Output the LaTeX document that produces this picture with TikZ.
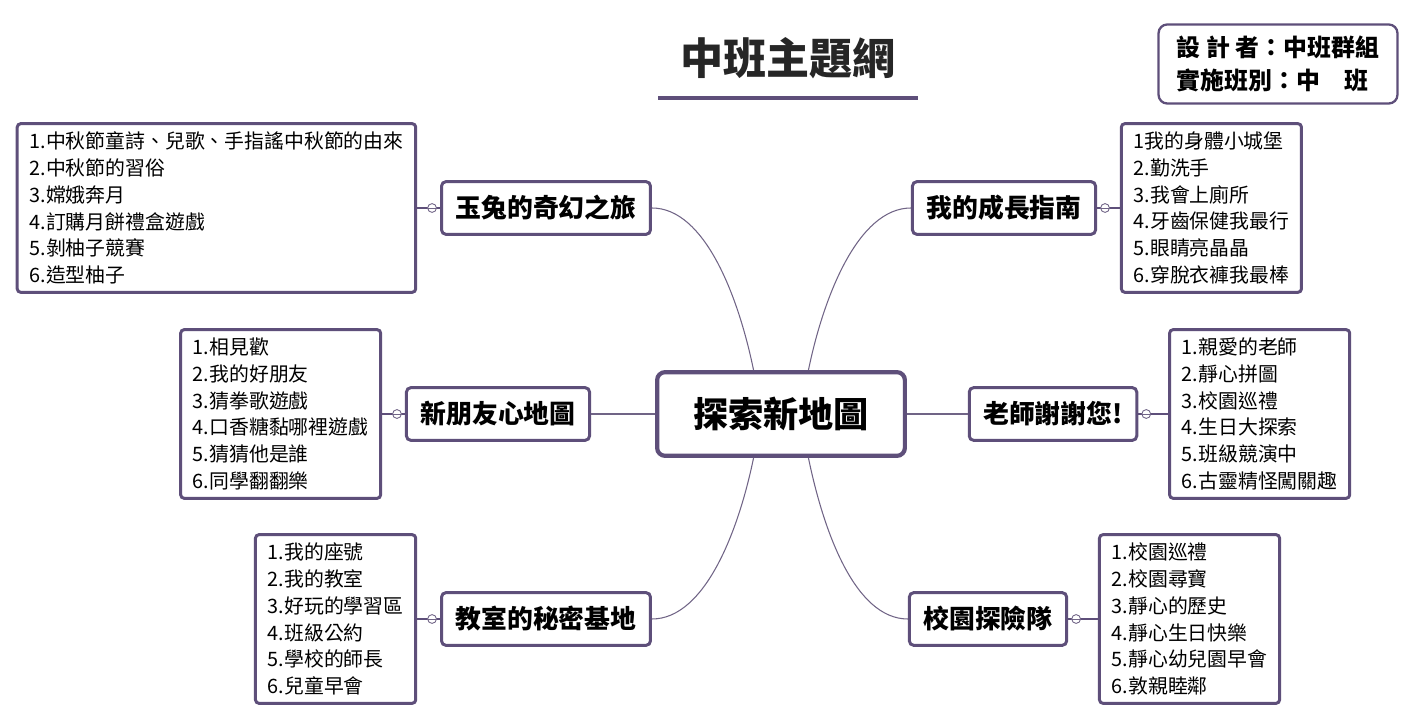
\documentclass[tikz,border=0pt]{standalone}
\usepackage{fontspec}
\setmainfont{Noto Sans CJK TC}
\usetikzlibrary{calc,positioning}
\definecolor{plum}{RGB}{94,79,122}
\definecolor{wire}{RGB}{112,100,134}
\tikzstyle{topic}=[rectangle,draw=plum,line width=2.4pt,rounded corners=4.5pt,fill=white,minimum width=141pt,minimum height=47.6pt,font=\fontsize{20}{24}\selectfont\bfseries]
\tikzstyle{subtopic}=[rectangle,draw=plum,line width=1.7pt,rounded corners=2.5pt,fill=white,minimum height=30pt,inner xsep=8pt,font=\fontsize{14.7}{18}\selectfont\bfseries]
\tikzstyle{leaf}=[rectangle,draw=plum,line width=1.7pt,rounded corners=2pt,fill=white,minimum height=96pt,inner xsep=7pt,align=left,font=\fontsize{11.3}{15.3}\selectfont]
\tikzstyle{knob}=[circle,draw=wire,fill=white,line width=0.5pt,minimum size=5pt,inner sep=0pt,path picture={\draw[wire,line width=0.5pt] (path picture bounding box.west) -- (path picture bounding box.east);}]
\tikzstyle{stem} = [draw=plum,line width=1.2pt]
\tikzstyle{branch} = [draw=wire,line width=0.6pt]

\begin{document}
\begin{tikzpicture}[x=0.02cm,y=-0.02cm]
\useasboundingbox (0,0) rectangle (1417,722);

   \def\gap{13pt}
   \def\wgap{17pt}

% Label
\node[font=\fontsize{24.5}{28}\selectfont\bfseries, text=black!85] (title) at (788,58) {中班主題網};
\draw[plum, line width=2.3pt] (658,98) -- (918,98);

\node[draw=plum, line width=1.3pt, rounded corners=5pt, fill=white, align=left, minimum width=136pt, minimum height=45pt,
      font=\fontsize{13.6}{18.7}\selectfont\bfseries] (info) at (1278,64) {設 計 者：中班群組\\實施班別：中\quad 班};

%root
   \node[topic] (root) at (781,414) {探索新地圖};

%layer 1
    \foreach \pos/\name/\txt in {{(546,208)/a/玉兔的奇幻之旅}, {(1004,208)/b/我的成長指南}, {(498,414)/c/新朋友心地圖},
                                 {(1053,414)/d/老師謝謝您!}, {(546,619)/e/教室的秘密基地}, {(988,619)/f/校園探險隊}}
        \node[subtopic] (\name) at \pos {\txt};

%layer 2
   \node[leaf, left=\gap of a] (la) {1.中秋節童詩、兒歌、手指謠中秋節的由來\\2.中秋節的習俗\\3.嫦娥奔月\\4.訂購月餅禮盒遊戲\\5.剝柚子競賽\\6.造型柚子};
   \node[leaf, right=\gap of b] (lb) {1我的身體小城堡\\2.勤洗手\\3.我會上廁所\\4.牙齒保健我最行\\5.眼睛亮晶晶\\6.穿脫衣褲我最棒};
   \node[leaf, left=\gap of c] (lc) {1.相見歡\\2.我的好朋友\\3.猜拳歌遊戲\\4.口香糖黏哪裡遊戲\\5.猜猜他是誰\\6.同學翻翻樂};
   \node[leaf, right=\wgap of d] (ld) {1.親愛的老師\\2.靜心拼圖\\3.校園巡禮\\4.生日大探索\\5.班級競演中\\6.古靈精怪闖關趣};
   \node[leaf, left=\gap of e] (le) {1.我的座號\\2.我的教室\\3.好玩的學習區\\4.班級公約\\5.學校的師長\\6.兒童早會};
   \node[leaf, right=\wgap of f] (lf) {1.校園巡禮\\2.校園尋寶\\3.靜心的歷史\\4.靜心生日快樂\\5.靜心幼兒園早會\\6.敦親睦鄰};

    % Connect root with topics
    \draw[branch] (a.east) .. controls +(53,0) and +(-15,-73) .. (root.122);
    \draw[branch] (b.west) .. controls +(-53,0) and +(15,-73) .. (root.58);
    \draw[branch] (e.east) .. controls +(53,0) and +(-15,73) .. (root.238);
    \draw[branch] (f.west) .. controls +(-53,0) and +(15,73) .. (root.302);
    \draw[branch] (c) -- (root);
    \draw[branch] (root) -- (d);

    % topics to lists
    \foreach \name in {a, c, e}
        {\path[stem] (l\name) -- (\name);
         \node[knob] (k\name) at ($(\name.west)+(-8,0)$) {};}
    \foreach \name in {b, d, f}
        {\path[stem] (\name) -- (l\name);
         \node[knob] (k\name) at ($(\name.east)+(8,0)$) {};}

\end{tikzpicture}
\end{document}
